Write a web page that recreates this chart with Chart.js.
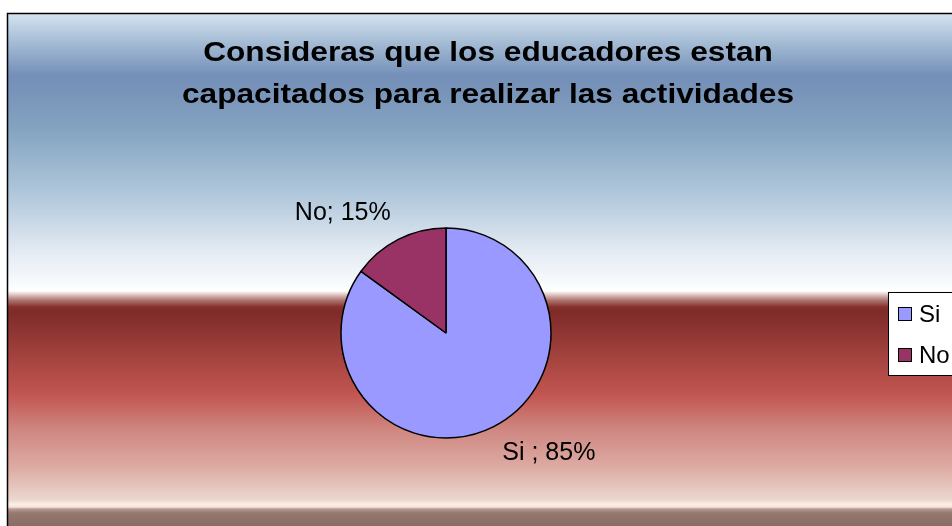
<!DOCTYPE html>
<html>
<head>
<meta charset="utf-8">
<script src="https://cdn.jsdelivr.net/npm/chart.js@4.4.0/dist/chart.umd.min.js"></script>
<style>
  html, body { margin: 0; padding: 0; background: #fff; }
  canvas { display: block; }
</style>
</head>
<body>
<canvas id="pieChart" width="952" height="526"></canvas>
<script>
// chart data
const labels = ['Si', 'No'];
const values = [85, 15];
const labelSeparators = [' ; ', '; '];   // as written in the original data labels
const sliceColors = ['#9999ff', '#993366'];
const titleLines = ['Consideras que los educadores estan', 'capacitados para realizar las actividades'];

// background gradient stops (y in px, colour)
const bgStops = [
    [14, '#d4e3f0'], [40, '#a8bfd6'], [75, '#7590b9'], [90, '#7893b9'],
    [130, '#84a4c1'], [200, '#b5cadd'], [250, '#e2eaf2'], [285, '#f9fbfd'],
    [291, '#ffffff'], [294, '#e6d0ce'], [300, '#b07874'], [307, '#85302c'],
    [312, '#7e2b28'], [350, '#9e3f3b'], [395, '#c25651'], [430, '#cf8781'],
    [470, '#deaea6'], [500, '#ead8cf'], [504, '#fdeee6'], [507, '#f5e5de'],
    [509, '#b89c94'], [513, '#957870'], [526, '#8a6c64']
];

// Draws the framed gradient background
const backgroundPlugin = {
    id: 'background',
    beforeDraw(chart) {
        const ctx = chart.ctx;
        ctx.save();
        ctx.fillStyle = '#ffffff';
        ctx.fillRect(0, 0, chart.width, chart.height);
        const top = 13, bottom = chart.height;
        const grad = ctx.createLinearGradient(0, top, 0, bottom);
        bgStops.forEach(([y, c]) => grad.addColorStop(Math.min(1, Math.max(0, (y - top) / (bottom - top))), c));
        ctx.fillStyle = grad;
        ctx.fillRect(7, top, chart.width - 7, bottom - top);
        // frame (left and top edges are visible)
        ctx.strokeStyle = '#000000';
        ctx.lineWidth = 1.5;
        ctx.beginPath();
        ctx.moveTo(7.5, bottom);
        ctx.lineTo(7.5, top + 0.5);
        ctx.lineTo(chart.width, top + 0.5);
        ctx.stroke();
        ctx.restore();
    }
};

// Title, slice labels and legend box
const overlayPlugin = {
    id: 'overlay',
    afterDraw(chart) {
        const ctx = chart.ctx;
        ctx.save();

        // title
        ctx.fillStyle = '#000000';
        ctx.font = 'bold 28px "Liberation Sans", Arial, sans-serif';
        ctx.textAlign = 'center';
        ctx.textBaseline = 'middle';
        titleLines.forEach((line, i) => {
            ctx.save();
            ctx.translate(488, 53 + i * 42);
            ctx.scale(1.13, 1);
            ctx.fillText(line, 0, 0);
            ctx.restore();
        });

        // data labels outside slices
        const meta = chart.getDatasetMeta(0);
        ctx.font = '25px "Liberation Sans", Arial, sans-serif';
        meta.data.forEach((arc, i) => {
            const mid = (arc.startAngle + arc.endAngle) / 2;
            const r = arc.outerRadius + 30;
            const px = arc.x + Math.cos(mid) * r;
            const py = arc.y + Math.sin(mid) * r;
            const right = Math.cos(mid) >= 0;
            ctx.textAlign = right ? 'left' : 'right';
            ctx.fillText(labels[i] + labelSeparators[i] + values[i] + '%', right ? px - 5 : px + 6, py);
        });

        // legend
        const lx = 888, ly = 292;
        ctx.fillStyle = '#ffffff';
        ctx.fillRect(lx, ly, chart.width - lx + 10, 83);
        ctx.strokeStyle = '#000000';
        ctx.lineWidth = 1;
        ctx.strokeRect(lx + 0.5, ly + 0.5, chart.width - lx + 10, 83);
        ctx.font = '24px "Liberation Sans", Arial, sans-serif';
        ctx.textAlign = 'left';
        labels.forEach((lab, i) => {
            const cy = ly + 22 + i * 41;
            ctx.fillStyle = sliceColors[i];
            ctx.fillRect(898.5, cy - 6.5, 13, 13);
            ctx.strokeRect(898.5, cy - 6.5, 13, 13);
            ctx.fillStyle = '#000000';
            ctx.fillText(lab, 919, cy + 1);
        });

        ctx.restore();
    }
};

new Chart(document.getElementById('pieChart'), {
    type: 'pie',
    data: {
        labels: labels,
        datasets: [{
            data: values,
            backgroundColor: sliceColors,
            borderColor: '#000000',
            borderWidth: 1.5
        }]
    },
    options: {
        responsive: false,
        devicePixelRatio: 1,
        animation: false,
        radius: 105,
        layout: {
            padding: { left: 300, right: 360, top: 200, bottom: 60 }
        },
        plugins: {
            legend: { display: false },
            title: { display: false },
            tooltip: { enabled: false }
        }
    },
    plugins: [backgroundPlugin, overlayPlugin]
});
</script>
</body>
</html>
